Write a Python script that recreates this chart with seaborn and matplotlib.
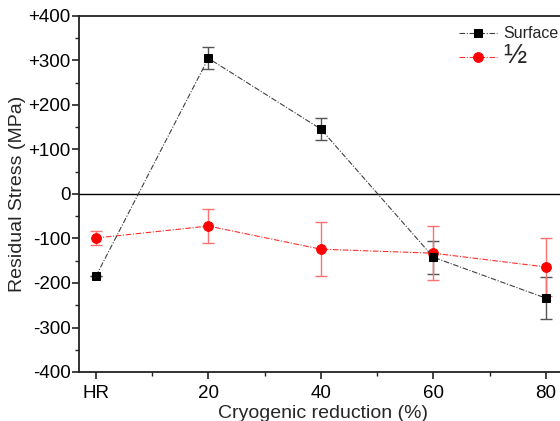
import matplotlib
matplotlib.use("Agg")
import matplotlib.pyplot as plt
import seaborn as sns
import numpy as np
import pandas as pd
from matplotlib.ticker import MultipleLocator, FixedLocator

categories = ["HR", "20", "40", "60", "80"]
surface = [-185, 305, 146, -142, -234]
surface_err = [0, 25, 25, 37, 48]
half = [-99, -72, -124, -133, -164]
half_err = [15, 38, 60, 60, 65]
yticks = [-400, -300, -200, -100, 0, 100, 200, 300, 400]
ytick_labels = ["-400", "-300", "-200", "-100", "0", "+100", "+200", "+300", "+400"]

sns.set_theme(style="ticks")
plt.rcParams['font.family'] = ['Liberation Sans', 'DejaVu Sans']

fig = plt.figure(figsize=(5.6, 4.21), dpi=100)
ax = fig.add_axes([79/560, 1-372/421, (566-79)/560, (372-16)/421])

x = np.arange(len(categories))
df = pd.DataFrame({"x": np.concatenate([x, x]),
                   "y": surface + half,
                   "series": ["Surface"]*5 + ["½"]*5})

ax.axhline(0, color="black", lw=1.0, zorder=1)

ax.errorbar(x, surface, yerr=surface_err, fmt="none", ecolor="#555555",
            elinewidth=1.0, capsize=4, capthick=1.0, zorder=2)
ax.errorbar(x, half, yerr=half_err, fmt="none", ecolor="#ff7070",
            elinewidth=1.0, capsize=4, capthick=1.0, zorder=2)

ls = (0, (5, 1.5, 1, 1.5))
sns.lineplot(data=df[df.series == "Surface"], x="x", y="y", ax=ax,
             color="#404040", lw=0.8, linestyle=ls,
             marker="s", markersize=6, markerfacecolor="black",
             markeredgecolor="black", label="Surface", zorder=4)
sns.lineplot(data=df[df.series == "½"], x="x", y="y", ax=ax,
             color="#ff3030", lw=0.8, linestyle=ls,
             marker="o", markersize=7, markerfacecolor="red",
             markeredgecolor="red", label="½", zorder=3)

ax.set_xlim(-0.15, 4.18)
ax.set_ylim(-400, 400)
ax.set_xticks(x)
ax.set_xticklabels(categories)
ax.xaxis.set_minor_locator(FixedLocator(x[:-1] + 0.5))
ax.set_yticks(yticks)
ax.set_yticklabels(ytick_labels)
ax.yaxis.set_minor_locator(MultipleLocator(50))

for s in ax.spines.values():
    s.set_linewidth(1.3)
    s.set_color("#222222")
ax.tick_params(axis="both", which="major", direction="out", length=5, width=1.2,
               labelsize=13.5, colors="#222222", labelcolor="black")
ax.tick_params(axis="y", which="major", pad=1)
ax.tick_params(axis="x", which="major", pad=4)
ax.tick_params(axis="both", which="minor", direction="out", length=3, width=1.0,
               colors="#222222")

ax.set_xlabel("Cryogenic reduction (%)", fontsize=14, labelpad=2.5)
ax.set_ylabel("Residual Stress (MPa)", fontsize=14, labelpad=2)

leg = ax.legend(loc="upper left", bbox_to_anchor=(459/560, 1-26/421),
                bbox_transform=fig.transFigure, frameon=False,
                handlelength=2.5, handletextpad=0.4, labelspacing=0.1,
                borderaxespad=0, borderpad=0)
texts = leg.get_texts()
texts[0].set_fontsize(11.5)
texts[1].set_fontsize(20)

fig.savefig("out.png", dpi=100)
